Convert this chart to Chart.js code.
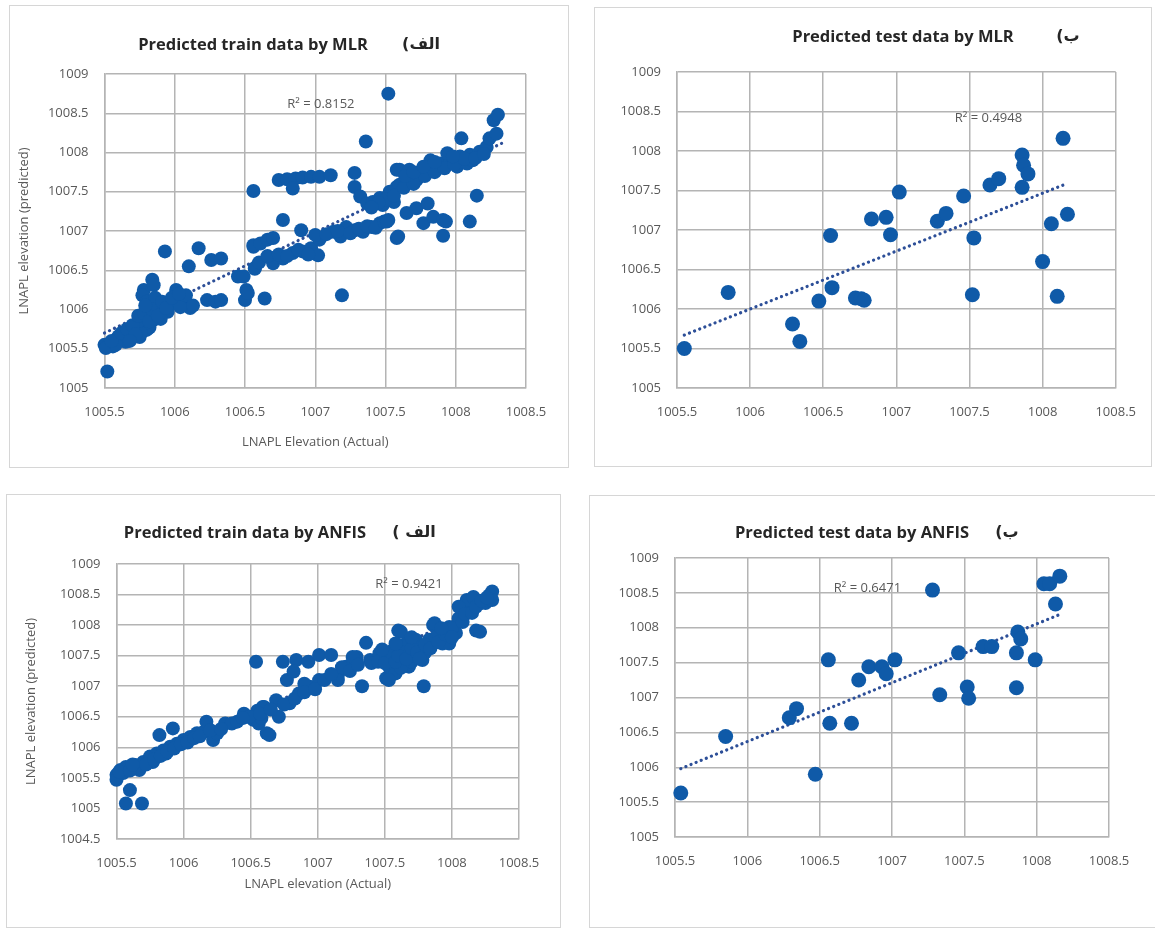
<!DOCTYPE html>
<html>
<head>
<meta charset="utf-8">
<title>LNAPL elevation – MLR and ANFIS</title>
<script src="https://cdn.jsdelivr.net/npm/chart.js@4.4.1/dist/chart.umd.min.js"></script>
<style>
    html, body { margin: 0; padding: 0; background: #fff; width: 1155px; height: 928px; overflow: hidden; }
    .frame { position: absolute; border: 1.5px solid #d6d6d6; box-sizing: border-box; }
    canvas { position: absolute; }
</style>
</head>
<body>
<div class="frame" id="f1"></div>
<div class="frame" id="f2"></div>
<div class="frame" id="f3"></div>
<div class="frame" id="f4"></div>
<canvas id="c1"></canvas>
<canvas id="c2"></canvas>
<canvas id="c3"></canvas>
<canvas id="c4"></canvas>
<script>
// Axis ticks
const xTicks = [1005.5, 1006, 1006.5, 1007, 1007.5, 1008, 1008.5];
const yTicksTop = [1005, 1005.5, 1006, 1006.5, 1007, 1007.5, 1008, 1008.5, 1009];
const yTicksAnfisTrain = [1004.5, 1005, 1005.5, 1006, 1006.5, 1007, 1007.5, 1008, 1008.5, 1009];

// MLR - train (actual, predicted)
const mlrTrainX = [
    1005.52, 1005.50, 1005.54, 1005.59, 1005.63, 1005.68, 1005.73, 1005.75, 1005.78, 1005.80,
    1005.82, 1005.85, 1005.87, 1005.92, 1005.97, 1006.01, 1006.06, 1006.11, 1006.01, 1005.78,
    1005.77, 1005.84, 1005.85, 1005.80, 1005.70, 1005.65, 1005.56, 1005.51, 1005.80, 1005.82,
    1005.60, 1005.72, 1005.76, 1005.88, 1005.95, 1006.04, 1005.90, 1005.83, 1005.75, 1005.86,
    1006.08, 1005.58,
    1005.55, 1005.62, 1005.66, 1005.70, 1005.74, 1005.78, 1005.82, 1005.84, 1005.88, 1005.91,
    1005.94, 1005.98, 1006.03, 1005.79, 1005.72, 1005.68, 1006.13,
    1005.93, 1006.10, 1006.17, 1006.26, 1006.33, 1006.23, 1006.29, 1006.33, 1006.45, 1006.51,
    1006.50, 1006.56, 1006.57,
    1007.36, 1006.56, 1006.74, 1006.80, 1006.86, 1006.91, 1006.97, 1007.03, 1007.11, 1006.84,
    1006.77, 1007.28, 1007.28, 1007.32, 1007.37, 1007.41, 1007.46, 1007.53, 1007.58, 1007.58,
    1006.56, 1006.61, 1006.66, 1006.70, 1006.90, 1006.57, 1006.70, 1006.77, 1006.84, 1006.91,
    1006.97, 1007.02, 1007.03, 1007.13, 1007.18, 1007.22, 1007.28, 1007.34, 1007.40, 1007.46,
    1007.52, 1007.19, 1007.58, 1006.49, 1006.52, 1006.64,
    1006.60, 1006.66, 1006.74, 1006.80, 1006.88, 1006.95, 1007.00, 1007.08, 1007.16, 1007.25,
    1007.31, 1007.37, 1007.43, 1007.49,
    1007.52, 1007.53, 1007.60, 1007.67, 1007.75, 1007.82, 1007.89, 1007.96, 1008.03, 1008.10,
    1008.17, 1008.22, 1008.24, 1008.29, 1008.27, 1008.30, 1007.60, 1007.67, 1007.82, 1007.94,
    1008.01, 1007.86, 1007.72, 1007.56, 1007.48, 1008.08, 1008.12, 1008.04, 1008.15, 1008.10,
    1007.65, 1007.72, 1007.80, 1007.77, 1007.84, 1007.91, 1007.93, 1007.91, 1007.51, 1007.59,
    1007.50, 1007.56, 1007.63, 1007.70, 1007.78, 1007.85, 1007.92, 1007.99, 1008.06, 1008.14,
    1008.20, 1007.64, 1007.70, 1007.77, 1007.85, 1007.98, 1007.45, 1007.40
];
const mlrTrainY = [
    1005.21, 1005.55, 1005.57, 1005.61, 1005.63, 1005.70, 1005.74, 1005.65, 1005.82, 1005.91,
    1005.99, 1005.87, 1005.95, 1006.02, 1006.08, 1006.12, 1006.10, 1006.02, 1006.25, 1006.25,
    1006.18, 1006.38, 1006.31, 1006.10, 1005.65, 1005.59, 1005.53, 1005.51, 1005.74, 1005.77,
    1005.66, 1005.80, 1005.70, 1006.05, 1005.97, 1006.03, 1005.88, 1006.05, 1005.86, 1006.15,
    1006.18, 1005.55,
    1005.60, 1005.70, 1005.75, 1005.80, 1005.92, 1005.95, 1005.85, 1006.00, 1005.92, 1006.10,
    1006.02, 1006.15, 1006.20, 1006.05, 1005.68, 1005.60, 1006.05,
    1006.74, 1006.55, 1006.78, 1006.63, 1006.65, 1006.12, 1006.10, 1006.12, 1006.42, 1006.25,
    1006.12, 1006.80, 1006.53,
    1008.14, 1007.51, 1007.65, 1007.66, 1007.67, 1007.68, 1007.69, 1007.69, 1007.71, 1007.54,
    1007.14, 1007.74, 1007.56, 1007.44, 1007.35, 1007.37, 1007.42, 1007.48, 1007.56, 1007.78,
    1006.82, 1006.84, 1006.89, 1006.91, 1007.01, 1006.52, 1006.59, 1006.65, 1006.72, 1006.74,
    1006.78, 1006.69, 1006.89, 1006.99, 1006.93, 1007.05, 1007.01, 1006.99, 1007.05, 1007.10,
    1007.14, 1006.18, 1006.91, 1006.42, 1006.21, 1006.14,
    1006.60, 1006.68, 1006.70, 1006.68, 1006.76, 1006.70, 1006.95, 1006.96, 1007.00, 1006.97,
    1007.03, 1007.06, 1007.04, 1007.12,
    1008.75, 1007.50, 1007.59, 1007.67, 1007.76, 1007.82, 1007.86, 1007.90, 1007.95, 1007.97,
    1008.01, 1008.07, 1008.18, 1008.24, 1008.41, 1008.48, 1007.78, 1007.78, 1007.90, 1007.99,
    1007.82, 1007.78, 1007.65, 1007.37, 1007.33, 1007.86, 1007.90, 1008.18, 1007.45, 1007.12,
    1007.23, 1007.29, 1007.35, 1007.10, 1007.18, 1007.14, 1007.12, 1006.94, 1007.12, 1006.93,
    1007.40, 1007.45, 1007.55, 1007.60, 1007.70, 1007.75, 1007.80, 1007.85, 1007.92, 1007.93,
    1007.98, 1007.70, 1007.75, 1007.82, 1007.88, 1007.95, 1007.36, 1007.30
];
const mlrTrainTrendX = [1005.50, 1008.33];
const mlrTrainTrendY = [1005.70, 1008.12];

// MLR - test
const mlrTestX = [
    1005.55, 1005.85, 1006.29, 1006.34, 1006.47, 1006.56, 1006.55, 1006.72, 1006.76, 1006.78,
    1006.83, 1006.93, 1006.96, 1007.02, 1007.28, 1007.34, 1007.46, 1007.52, 1007.53, 1007.64,
    1007.70, 1007.86, 1007.87, 1007.90, 1007.86, 1008.00, 1008.06, 1008.10, 1008.14, 1008.17
];
const mlrTestY = [
    1005.50, 1006.21, 1005.81, 1005.59, 1006.10, 1006.27, 1006.93, 1006.14, 1006.13, 1006.11,
    1007.14, 1007.16, 1006.94, 1007.48, 1007.11, 1007.21, 1007.43, 1006.18, 1006.90, 1007.57,
    1007.65, 1007.95, 1007.82, 1007.71, 1007.54, 1006.60, 1007.08, 1006.16, 1008.16, 1007.20
];
const mlrTestTrendX = [1005.55, 1008.17];
const mlrTestTrendY = [1005.67, 1007.59];

// ANFIS - train
const anfisTrainX = [
    1005.50, 1005.53, 1005.57, 1005.60, 1005.57, 1005.69, 1005.50, 1005.64, 1005.70, 1005.75,
    1005.80, 1005.85, 1005.90, 1005.95, 1006.00, 1006.05, 1006.10, 1006.15, 1005.82, 1005.92,
    1006.17, 1006.22, 1006.25, 1006.31, 1006.36, 1006.47, 1006.52, 1006.56, 1006.62, 1006.60,
    1005.67, 1005.77, 1005.87, 1005.55, 1006.45, 1006.55, 1006.58,
    1006.54, 1006.74, 1006.84, 1006.93, 1007.01, 1007.10, 1006.77, 1006.82, 1006.64, 1006.71,
    1006.49, 1006.59, 1006.69, 1006.79, 1006.86, 1006.94, 1007.01, 1006.90, 1007.15, 1007.21,
    1007.29, 1007.36, 1007.39, 1007.46, 1007.51, 1007.33, 1007.60, 1007.56, 1007.66, 1007.15,
    1007.53, 1007.61, 1007.68, 1007.76, 1007.83, 1007.91, 1007.98, 1008.05, 1008.13, 1008.20,
    1008.28, 1008.30, 1007.64, 1007.73, 1007.86, 1007.58, 1007.68, 1007.78, 1007.93, 1008.03,
    1008.11, 1008.16, 1008.25, 1008.30, 1007.98, 1008.05, 1007.79, 1008.18, 1007.53, 1007.87,
    1007.62, 1008.21, 1007.55, 1007.62, 1007.70, 1007.65, 1007.72, 1007.80, 1007.50, 1007.18,
    1007.26,
    1005.52, 1005.60, 1005.62, 1005.72, 1005.78, 1005.83, 1005.88, 1005.93, 1005.98, 1006.03,
    1006.08, 1006.12, 1006.20, 1006.28, 1006.40, 1006.44, 1006.57, 1006.65, 1006.75, 1006.83,
    1006.90, 1006.98, 1007.05, 1007.10, 1007.24, 1007.30, 1007.40, 1007.45, 1007.50, 1007.55,
    1007.58, 1007.60, 1007.66, 1007.70, 1007.74, 1007.76, 1007.80, 1007.84, 1007.88, 1007.90,
    1007.95, 1008.00, 1008.08, 1008.10, 1008.15, 1008.18, 1008.22, 1008.26, 1008.00, 1007.92,
    1007.70, 1007.58, 1007.48
];
const anfisTrainY = [
    1005.55, 1005.63, 1005.68, 1005.30, 1005.08, 1005.08, 1005.47, 1005.71, 1005.76, 1005.85,
    1005.90, 1005.95, 1006.01, 1006.06, 1006.12, 1006.17, 1006.23, 1006.25, 1006.20, 1006.31,
    1006.42, 1006.12, 1006.23, 1006.39, 1006.39, 1006.50, 1006.45, 1006.39, 1006.23, 1006.66,
    1005.63, 1005.76, 1005.90, 1005.58, 1006.55, 1006.60, 1006.48,
    1007.40, 1007.40, 1007.43, 1007.40, 1007.51, 1007.51, 1007.10, 1007.24, 1006.20, 1006.50,
    1006.50, 1006.66, 1006.77, 1006.72, 1006.88, 1006.99, 1007.10, 1007.04, 1007.18, 1007.32,
    1007.48, 1007.71, 1007.43, 1007.54, 1007.13, 1007.00, 1007.91, 1007.59, 1007.70, 1007.10,
    1007.32, 1007.43, 1007.54, 1007.65, 1007.76, 1007.89, 1007.97, 1008.11, 1008.25, 1008.38,
    1008.49, 1008.55, 1007.65, 1007.76, 1008.00, 1007.21, 1007.32, 1007.43, 1007.70, 1007.87,
    1008.41, 1008.46, 1008.36, 1008.41, 1007.70, 1008.30, 1007.00, 1007.91, 1007.10, 1008.03,
    1007.89, 1007.89, 1007.45, 1007.30, 1007.40, 1007.55, 1007.50, 1007.55, 1007.50, 1007.31,
    1007.48,
    1005.60, 1005.62, 1005.72, 1005.72, 1005.80, 1005.86, 1005.93, 1005.98, 1006.05, 1006.08,
    1006.15, 1006.18, 1006.28, 1006.30, 1006.42, 1006.48, 1006.55, 1006.62, 1006.70, 1006.80,
    1006.90, 1006.95, 1007.10, 1007.20, 1007.25, 1007.35, 1007.38, 1007.40, 1007.38, 1007.55,
    1007.40, 1007.50, 1007.45, 1007.62, 1007.55, 1007.45, 1007.68, 1007.62, 1007.80, 1007.72,
    1007.85, 1007.95, 1008.05, 1008.18, 1008.20, 1008.30, 1008.40, 1008.45, 1007.80, 1007.95,
    1007.80, 1007.70, 1007.60
];
const anfisTrainTrendX = [1005.50, 1008.30];
const anfisTrainTrendY = [1005.55, 1008.35];

// ANFIS - test
const anfisTestX = [
    1005.54, 1005.85, 1006.29, 1006.34, 1006.47, 1006.56, 1006.57, 1006.72, 1006.77, 1006.84,
    1006.93, 1006.96, 1007.02, 1007.28, 1007.33, 1007.46, 1007.52, 1007.53, 1007.63, 1007.69,
    1007.87, 1007.89, 1007.86, 1007.86, 1007.99, 1008.05, 1008.09, 1008.16, 1008.13
];
const anfisTestY = [
    1005.63, 1006.44, 1006.71, 1006.84, 1005.90, 1007.54, 1006.63, 1006.63, 1007.25, 1007.44,
    1007.44, 1007.34, 1007.54, 1008.54, 1007.04, 1007.64, 1007.15, 1006.99, 1007.73, 1007.73,
    1007.94, 1007.84, 1007.64, 1007.14, 1007.54, 1008.63, 1008.63, 1008.74, 1008.34
];
const anfisTestTrendX = [1005.54, 1008.16];
const anfisTestTrendY = [1005.98, 1008.19];

const BLUE = '#0f5aa8';
const TREND = '#2d4f98';
const GRID = '#b4b4b4';
const TEXT = '#595959';

Chart.defaults.font.family = '"Open Sans", sans-serif';
Chart.defaults.color = TEXT;

function pts(xs, ys) {
    return xs.map((x, i) => ({ x: x, y: ys[i] }));
}

// Panel layout: box = frame [l, t, r, b], area = plot area [l, t, r, b] (page px)
const panels = [
    {
        canvas: 'c1', frame: 'f1', box: [9, 5, 569, 468], area: [104.5, 74, 526, 388],
        title: 'Predicted train data by MLR', titleAt: [253, 45], tag: 'الف)', tagAt: [421, 45],
        r2: 'R² = 0.8152', r2At: [1007.04, 1008.61],
        xs: mlrTrainX, ys: mlrTrainY, tx: mlrTrainTrendX, ty: mlrTrainTrendY, yTicks: yTicksTop,
        radius: 7, xTitle: 'LNAPL Elevation (Actual)', yTitle: 'LNAPL elevation (predicted)',
        yTitleX: 24, xTitleY: 442
    },
    {
        canvas: 'c2', frame: 'f2', box: [594, 7, 1152, 467], area: [677, 72, 1120, 388],
        title: 'Predicted test data by MLR', titleAt: [903, 37], tag: 'ب)', tagAt: [1068, 37],
        r2: 'R² = 0.4948', r2At: [1007.63, 1008.42],
        xs: mlrTestX, ys: mlrTestY, tx: mlrTestTrendX, ty: mlrTestTrendY, yTicks: yTicksTop,
        radius: 7.5
    },
    {
        canvas: 'c3', frame: 'f3', box: [6, 494, 561, 928], area: [116.5, 564, 519, 839],
        title: 'Predicted train data by ANFIS', titleAt: [245, 533], tag: 'الف )', tagAt: [414, 533],
        r2: 'R² = 0.9421', r2At: [1007.68, 1008.66],
        xs: anfisTrainX, ys: anfisTrainY, tx: anfisTrainTrendX, ty: anfisTrainTrendY, yTicks: yTicksAnfisTrain,
        radius: 7, xTitle: 'LNAPL elevation (Actual)', yTitle: 'LNAPL elevation (predicted)',
        yTitleX: 31.6, xTitleY: 884
    },
    {
        canvas: 'c4', frame: 'f4', box: [589, 495, 1160, 928], area: [675, 558, 1109, 837],
        title: 'Predicted test data by ANFIS', titleAt: [852, 533], tag: 'ب)', tagAt: [1007, 533],
        r2: 'R² = 0.6471', r2At: [1006.83, 1008.57],
        xs: anfisTestX, ys: anfisTestY, tx: anfisTestTrendX, ty: anfisTestTrendY, yTicks: yTicksTop,
        radius: 7.5
    }
];

// Draws panel title, the Persian tag and the R² note
const panelText = {
    id: 'panelText',
    afterDraw(chart, args, opts) {
        const p = opts.panel;
        const ctx = chart.ctx;
        const ox = p.box[0], oy = p.box[1];
        ctx.save();
        ctx.textBaseline = 'middle';
        ctx.textAlign = 'center';
        ctx.fillStyle = '#262626';
        ctx.font = 'bold 16.5px "Open Sans"';
        ctx.fillText(p.title, p.titleAt[0] - ox, p.titleAt[1] - oy);
        ctx.direction = 'rtl';
        ctx.font = 'bold 16px "DejaVu Sans"';
        ctx.fillText(p.tag, p.tagAt[0] - ox, p.tagAt[1] - oy);
        ctx.direction = 'ltr';
        ctx.fillStyle = TEXT;
        ctx.font = '13px "Open Sans"';
        ctx.fillText(p.r2, chart.scales.x.getPixelForValue(p.r2At[0]), chart.scales.y.getPixelForValue(p.r2At[1]));
        ctx.restore();
    }
};

function fmt(v) {
    return String(Math.round(v * 10) / 10);
}

panels.forEach(p => {
    const [bl, bt, br, bb] = p.box;
    const [al, at, ar, ab] = p.area;
    const frame = document.getElementById(p.frame);
    frame.style.left = bl + 'px';
    frame.style.top = bt + 'px';
    frame.style.width = (br - bl) + 'px';
    frame.style.height = (bb - bt) + 'px';

    const bottom = Math.min(bb, 928);
    const canvas = document.getElementById(p.canvas);
    canvas.width = br - bl;
    canvas.height = bottom - bt;
    canvas.style.left = bl + 'px';
    canvas.style.top = bt + 'px';
    const half = 13 * 1.2 / 2;

    new Chart(canvas, {
        type: 'scatter',
        data: {
            datasets: [
                {
                    data: pts(p.xs, p.ys),
                    backgroundColor: BLUE,
                    borderWidth: 0,
                    pointRadius: p.radius,
                    pointHoverRadius: p.radius,
                    clip: false,
                    order: 0
                },
                {
                    data: pts(p.tx, p.ty),
                    showLine: true,
                    borderColor: TREND,
                    borderWidth: 3.2,
                    borderDash: [0.1, 5.4],
                    borderCapStyle: 'round',
                    pointRadius: 0,
                    clip: false,
                    order: 1
                }
            ]
        },
        options: {
            responsive: false,
            devicePixelRatio: 1,
            animation: false,
            layout: {
                padding: { left: 0, top: at - bt, right: br - ar, bottom: 0 }
            },
            plugins: {
                legend: { display: false },
                tooltip: { enabled: false },
                panelText: { panel: p }
            },
            scales: {
                x: {
                    type: 'linear',
                    min: xTicks[0],
                    max: xTicks[xTicks.length - 1],
                    afterBuildTicks: s => { s.ticks = xTicks.map(v => ({ value: v })); },
                    afterFit: s => { s.height = bottom - ab; },
                    grid: { color: GRID, lineWidth: 1.5, drawTicks: false },
                    border: { color: GRID, width: 1.5 },
                    ticks: { callback: fmt, padding: 16, maxRotation: 0, font: { size: 13 }, color: TEXT },
                    title: {
                        display: !!p.xTitle,
                        text: p.xTitle || '',
                        font: { size: 13 },
                        color: TEXT,
                        padding: { top: 0, bottom: p.xTitle ? bottom - p.xTitleY - half : 0 }
                    }
                },
                y: {
                    type: 'linear',
                    min: p.yTicks[0],
                    max: p.yTicks[p.yTicks.length - 1],
                    afterBuildTicks: s => { s.ticks = p.yTicks.map(v => ({ value: v })); },
                    afterFit: s => { s.width = al - bl; },
                    grid: { color: GRID, lineWidth: 1.5, drawTicks: false },
                    border: { color: GRID, width: 1.5 },
                    ticks: { callback: fmt, padding: 16, font: { size: 13 }, color: TEXT },
                    title: {
                        display: !!p.yTitle,
                        text: p.yTitle || '',
                        font: { size: 13 },
                        color: TEXT,
                        padding: { top: p.yTitle ? p.yTitleX - bl - half : 0, bottom: 0 }
                    }
                }
            }
        },
        plugins: [panelText]
    });
});
</script>
</body>
</html>
